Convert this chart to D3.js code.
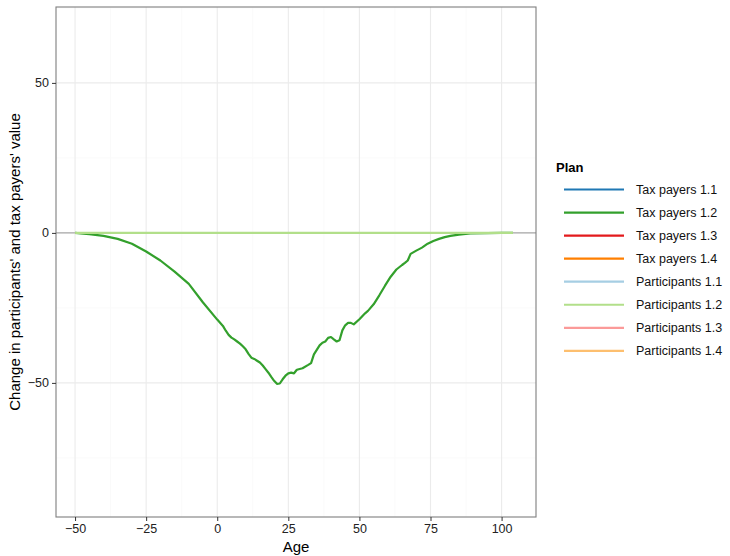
<!DOCTYPE html>
<html>
<head>
<meta charset="utf-8">
<script src="https://cdn.jsdelivr.net/npm/d3@7"></script>
<style>
  body { margin: 0; background: #fff; }
  svg { font-family: "Liberation Sans", Arial, sans-serif; }
</style>
</head>
<body>
<div id="chart"></div>
<script>
// legend categories and colours
var plans = ["Tax payers 1.1", "Tax payers 1.2", "Tax payers 1.3", "Tax payers 1.4",
             "Participants 1.1", "Participants 1.2", "Participants 1.3", "Participants 1.4"];
var planColors = ["#1F78B4", "#33A02C", "#E31A1C", "#FF7F00",
                  "#A6CEE3", "#B2DF8A", "#FB9A99", "#FDBF6F"];

// Tax payers 1.2
var taxAges = [-50, -45, -40, -35, -30, -25, -20, -15, -10, -5, 0, 2, 3, 4, 5, 6, 7, 8, 9, 10,
               11, 12, 13, 14, 15, 16, 17, 18, 19, 20, 21, 22, 23, 24, 25, 26, 27, 28, 30, 32,
               33, 34, 35, 36, 37, 38, 39, 40, 41, 42, 43, 44, 45, 46, 47, 48, 50, 52, 53, 55,
               57, 59, 61, 63, 65, 66, 67, 68, 70, 72, 74, 76, 78, 80, 82, 85, 89, 95, 100, 104];
var taxValues = [0, -0.4, -1.0, -2.0, -3.6, -6.2, -9.2, -12.9, -17.0, -23.2, -28.9, -31.0, -32.6, -34.0, -34.9, -35.5, -36.2, -36.9, -37.8, -38.8,
                 -40.3, -41.6, -42.0, -42.6, -43.2, -44.2, -45.4, -46.6, -48.0, -49.3, -50.3, -50.2, -48.8, -47.6, -46.8, -46.6, -46.8, -45.6, -45.1, -44.0,
                 -43.4, -40.5, -39.0, -37.5, -36.6, -36.2, -35.0, -34.7, -35.5, -36.2, -35.8, -32.5, -30.8, -30.0, -30.0, -30.5, -28.8, -26.8, -26.0, -23.8,
                 -20.8, -17.6, -14.6, -12.2, -10.7, -10.0, -9.2, -7.0, -5.9, -4.9, -3.6, -2.7, -2.0, -1.4, -1.0, -0.6, -0.2, -0.05, 0, 0];

// Participants 1.2
var partAges = [-50, 0, 50, 104];
var partValues = [0, 0, 0, 0];

var xTicks = [-50, -25, 0, 25, 50, 75, 100];
var yTicks = [-50, 0, 50];

var margin = {top: 7, left: 56},
    width = 480,
    height = 510;

var svg = d3.select("#chart")
    .append("svg")
        .attr("width", 730)
        .attr("height", 556);

var g = svg.append("g")
    .attr("transform", "translate(" + margin.left + "," + margin.top + ")");

var x = d3.scaleLinear()
    .domain([-56.7, 112.1])
    .range([0, width]);
var y = d3.scaleLinear()
    .domain([-94.7, 75.3])
    .range([height, 0]);

// minor grid
var xMinor = xTicks.slice(0, -1).map(function(d) { return d + 12.5; });
var yMinor = [-75, -25, 25, 75];
g.selectAll(".xminor").data(xMinor).enter().append("line")
    .attr("x1", d => x(d)).attr("x2", d => x(d))
    .attr("y1", 0).attr("y2", height)
    .attr("stroke", "#fafafa").attr("stroke-width", 1);
g.selectAll(".yminor").data(yMinor).enter().append("line")
    .attr("x1", 0).attr("x2", width)
    .attr("y1", d => y(d)).attr("y2", d => y(d))
    .attr("stroke", "#fafafa").attr("stroke-width", 1);

// major grid
g.selectAll(".xmajor").data(xTicks).enter().append("line")
    .attr("x1", d => x(d)).attr("x2", d => x(d))
    .attr("y1", 0).attr("y2", height)
    .attr("stroke", "#ebebeb").attr("stroke-width", 1.1);
g.selectAll(".ymajor").data(yTicks).enter().append("line")
    .attr("x1", 0).attr("x2", width)
    .attr("y1", d => y(d)).attr("y2", d => y(d))
    .attr("stroke", "#ebebeb").attr("stroke-width", 1.1);

// zero reference line
g.append("line")
    .attr("x1", 0).attr("x2", width)
    .attr("y1", y(0)).attr("y2", y(0))
    .attr("stroke", "#999999").attr("stroke-width", 1);

var line = d3.line()
    .x(d => x(d[0]))
    .y(d => y(d[1]));

g.append("path")
    .datum(taxAges.map((a, i) => [a, taxValues[i]]))
    .attr("d", line)
    .attr("fill", "none")
    .attr("stroke", planColors[1])
    .attr("stroke-width", 2.2)
    .attr("stroke-linejoin", "round");

g.append("path")
    .datum(partAges.map((a, i) => [a, partValues[i]]))
    .attr("d", line)
    .attr("fill", "none")
    .attr("stroke", planColors[5])
    .attr("stroke-width", 2.2);

// panel border
g.append("rect")
    .attr("x", 0).attr("y", 0)
    .attr("width", width).attr("height", height)
    .attr("fill", "none")
    .attr("stroke", "#7f7f7f")
    .attr("stroke-width", 1.1);

// axes
var xAxis = g.append("g")
    .attr("transform", "translate(0," + height + ")")
    .call(d3.axisBottom(x).tickValues(xTicks).tickSize(4).tickPadding(3).tickFormat(d => d < 0 ? "\u2212" + Math.abs(d) : d));
var yAxis = g.append("g")
    .call(d3.axisLeft(y).tickValues(yTicks).tickSize(4).tickPadding(3).tickFormat(d => d < 0 ? "\u2212" + Math.abs(d) : d));
[xAxis, yAxis].forEach(function(a) {
    a.select(".domain").remove();
    a.selectAll(".tick line").attr("stroke", "#333333");
    a.selectAll(".tick text").attr("fill", "#222222").style("font-size", "12.5px");
});

svg.append("text")
    .attr("x", margin.left + width / 2)
    .attr("y", 552)
    .attr("text-anchor", "middle")
    .style("font-size", "15px")
    .text("Age");

svg.append("text")
    .attr("transform", "translate(20," + (margin.top + height / 2) + ") rotate(-90)")
    .attr("text-anchor", "middle")
    .style("font-size", "15px")
    .text("Change in participants' and tax payers' value");

// legend
var legend = svg.append("g").attr("transform", "translate(556,0)");
legend.append("text")
    .attr("x", 0).attr("y", 172)
    .style("font-size", "13px")
    .style("font-weight", "bold")
    .text("Plan");
var items = legend.selectAll(".item").data(plans).enter().append("g")
    .attr("transform", (d, i) => "translate(0," + (189.5 + i * 23.05) + ")");
items.append("line")
    .attr("x1", 8).attr("x2", 68)
    .attr("stroke", (d, i) => planColors[i])
    .attr("stroke-width", 2.2);
items.append("text")
    .attr("x", 80).attr("y", 4.5)
    .style("font-size", "12.5px")
    .attr("fill", "#111")
    .text(d => d);
</script>
</body>
</html>
